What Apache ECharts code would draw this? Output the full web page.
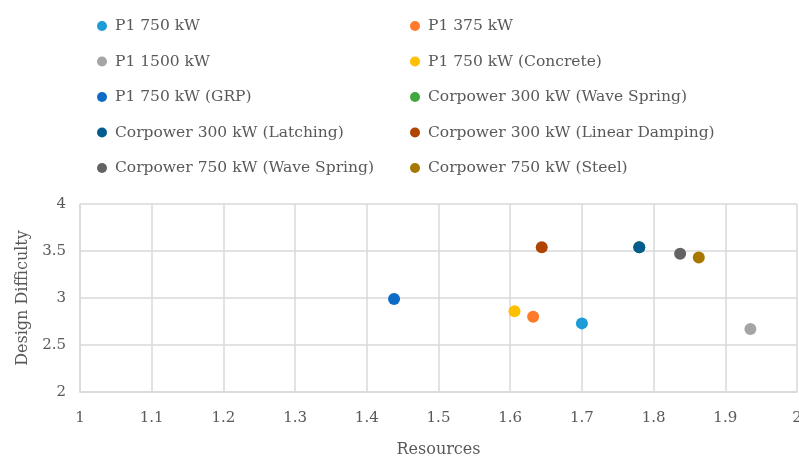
<!DOCTYPE html>
<html>
<head>
<meta charset="utf-8">
<script src="https://cdn.jsdelivr.net/npm/echarts@6/dist/echarts.min.js"></script>
<style>
  html, body { margin: 0; padding: 0; background: #fff; }
  #chart { width: 799px; height: 458px; }
</style>
</head>
<body>
<div id="chart"></div>
<script>
// series names, in legend order
const names = [
  'P1 750 kW',
  'P1 375 kW',
  'P1 1500 kW',
  'P1 750 kW (Concrete)',
  'P1 750 kW (GRP)',
  'Corpower 300 kW (Wave Spring)',
  'Corpower 300 kW (Latching)',
  'Corpower 300 kW (Linear Damping)',
  'Corpower 750 kW (Wave Spring)',
  'Corpower 750 kW (Steel)',
];
// resources (x) and design difficulty (y) for each design
const resources = [1.700, 1.632, 1.935, 1.606, 1.438, 1.780, 1.780, 1.644, 1.837, 1.863];
const difficulty = [2.73, 2.80, 2.67, 2.86, 2.99, 3.54, 3.54, 3.54, 3.47, 3.43];
const colors = [
  '#1f9bd7', '#fd7b2a', '#a5a5a5', '#ffc000', '#0f6cc6',
  '#3fa83f', '#045c8e', '#b04300', '#636363', '#a87700',
];

const font = 'DejaVu Serif';
const textColor = '#595959';
const lineColor = '#d9d9d9';

const chart = echarts.init(document.getElementById('chart'));

const legendBase = {
  orient: 'vertical',
  top: 13,
  icon: 'circle',
  itemWidth: 10,
  itemHeight: 10,
  itemGap: 19.5,
  textStyle: { fontFamily: font, fontSize: 15.5, color: textColor, padding: [0, 0, 0, 3] },
};

const option = {
  animation: false,
  color: colors,
  legend: [
    Object.assign({}, legendBase, { left: 92, data: names.filter((n, i) => i % 2 === 0) }),
    Object.assign({}, legendBase, { left: 405, data: names.filter((n, i) => i % 2 === 1) }),
  ],
  grid: { left: 80, right: 2, top: 204, bottom: 66, outerBoundsMode: 'none', containLabel: false },
  xAxis: {
    type: 'value',
    min: 1,
    max: 2,
    interval: 0.1,
    name: 'Resources',
    nameLocation: 'middle',
    nameGap: 50,
    nameTextStyle: { fontFamily: font, fontSize: 16, color: textColor },
    axisLine: { show: true, lineStyle: { color: lineColor, width: 1.5 } },
    axisTick: { show: false },
    splitLine: { lineStyle: { color: lineColor, width: 1.5 } },
    axisLabel: {
      fontFamily: font, fontSize: 15, color: textColor, margin: 19,
      formatter: v => +v.toFixed(1) + '',
    },
  },
  yAxis: {
    type: 'value',
    min: 2,
    max: 4,
    interval: 0.5,
    name: 'Design Difficulty',
    nameLocation: 'middle',
    nameGap: 44,
    nameTextStyle: { fontFamily: font, fontSize: 16, color: textColor },
    axisLine: { show: true, lineStyle: { color: lineColor, width: 1.5 } },
    axisTick: { show: false },
    splitLine: { lineStyle: { color: lineColor, width: 1.5 } },
    axisLabel: { fontFamily: font, fontSize: 15, color: textColor, margin: 14 },
  },
  series: names.map((name, i) => ({
    name: name,
    type: 'scatter',
    symbolSize: 12,
    itemStyle: { opacity: 1 },
    data: [[resources[i], difficulty[i]]],
  })),
};

chart.setOption(option);
window.onresize = function() {
  chart.resize();
};
</script>
</body>
</html>
